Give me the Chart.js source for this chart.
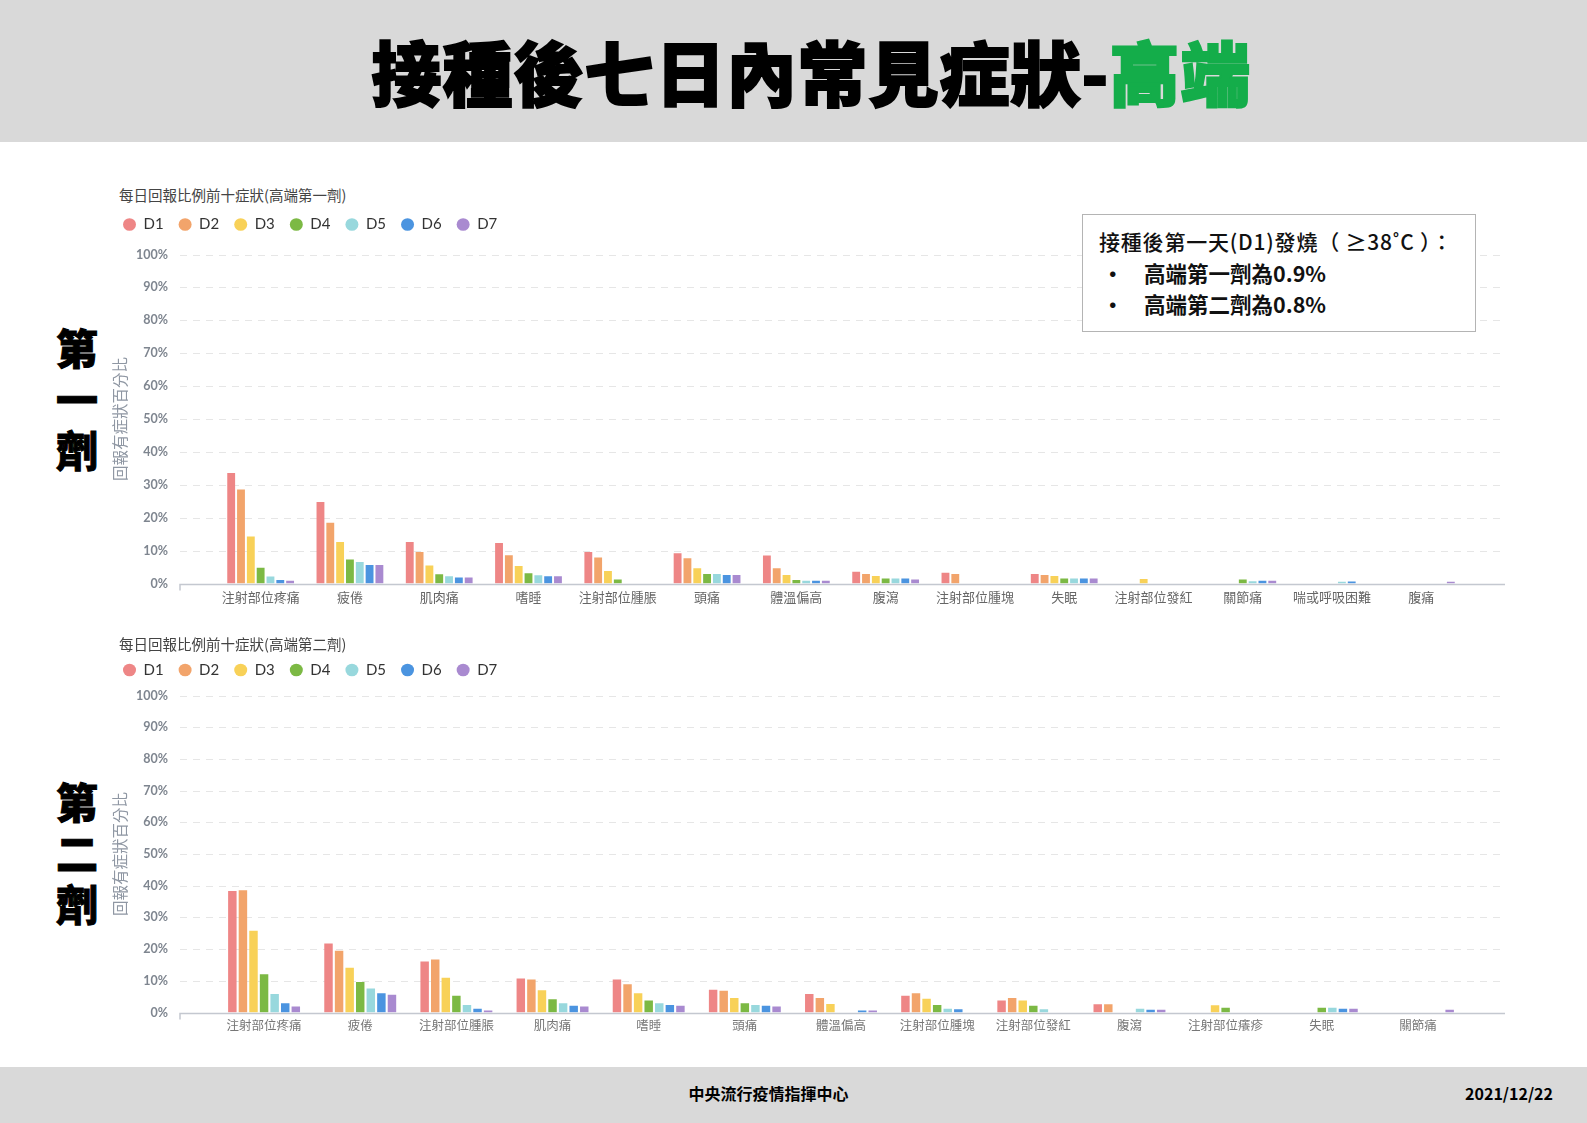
<!DOCTYPE html>
<html lang="zh-Hant">
<head>
<meta charset="utf-8">
<title>接種後七日內常見症狀-高端</title>
<script src="https://cdn.jsdelivr.net/npm/chart.js@4/dist/chart.umd.min.js"></script>
<style>
  html, body { margin: 0; padding: 0; background: #fff; }
  body { width: 1587px; height: 1123px; position: relative; overflow: hidden;
         font-family: "Noto Sans CJK TC", "Noto Sans", sans-serif; }
  .header { position: absolute; left: 0; top: 0; width: 1587px; height: 142px; background: #d9d9d9; }
  .header h1 { margin: 0; position: absolute; left: 18px; width: 1587px; top: 27px; text-align: center;
               font-size: 70px; line-height: 88px; font-weight: 900; color: #000;
               -webkit-text-stroke: 2px #000; letter-spacing: 1px; }
  .header h1 span { color: #14ad4a; -webkit-text-stroke: 2px #14ad4a; }
  .footer { position: absolute; left: 0; top: 1067px; width: 1587px; height: 56px; background: #d9d9d9; }
  .footer .org { position: absolute; left: 0; width: 1537px; top: 14px; text-align: center;
                 font-size: 16px; font-weight: 700; color: #000; }
  .footer .date { position: absolute; right: 34px; top: 14px; font-size: 16px; font-weight: 700; color: #000; }
  .dose { position: absolute; left: 52px; width: 50px; text-align: center; font-size: 42px;
          line-height: 51px; font-weight: 900; color: #000; -webkit-text-stroke: 1px #000; }
  .ctitle { position: absolute; left: 119px; font-size: 14.5px; color: #444; line-height: 20px; }
  .chartbox { position: absolute; }
  .note { position: absolute; left: 1082px; top: 214px; width: 394px; height: 118px;
          border: 1px solid #b4b4b4; background: #fff; z-index: 5; box-sizing: border-box; }
  .note p { margin: 0; position: absolute; left: 16px; font-size: 21px; line-height: 30px;
            color: #111; white-space: nowrap; font-weight: 500; letter-spacing: 0.8px; }
  .note .b { font-weight: 700; left: 19px; font-size: 21.5px; letter-spacing: 0; }
  .note .b i { font-style: normal; display: inline-block; width: 42px; }
</style>
</head>
<body>
<div class="header"><h1>接種後七日內常見症狀-<span>高端</span></h1></div>

<div class="dose" style="top:321px">第<br>一<br>劑</div>
<div class="dose" style="top:775px">第<br>二<br>劑</div>

<div class="ctitle" style="top:185px">每日回報比例前十症狀(高端第一劑)</div>
<div class="chartbox" style="left:108px;top:199px;width:1402px;height:440px"><canvas id="c1"></canvas></div>

<div class="ctitle" style="top:634px">每日回報比例前十症狀(高端第二劑)</div>
<div class="chartbox" style="left:108px;top:640px;width:1402px;height:428px"><canvas id="c2"></canvas></div>

<div class="note">
  <p style="top:11px">接種後第一天(D1)發燒（ ≥38˚C ）：</p>
  <p class="b" style="top:43px"><i>•</i>高端第一劑為0.9%</p>
  <p class="b" style="top:74px"><i>•</i>高端第二劑為0.8%</p>
</div>

<div class="footer">
  <div class="org">中央流行疫情指揮中心</div>
  <div class="date">2021/12/22</div>
</div>

<script>
// day labels and colours
const days = ['D1', 'D2', 'D3', 'D4', 'D5', 'D6', 'D7'];
const dayColors = ['#ee8686', '#f2a46b', '#f8d158', '#7cb944', '#98d8dd', '#4b94e0', '#a98ad0'];
const yTicks = [0, 10, 20, 30, 40, 50, 60, 70, 80, 90, 100];

// first dose (%)
const dose1Labels = ['注射部位疼痛', '疲倦', '肌肉痛', '嗜睡', '注射部位腫脹', '頭痛', '體溫偏高', '腹瀉', '注射部位腫塊', '失眠', '注射部位發紅', '關節痛', '喘或呼吸困難', '腹痛'];
const dose1D1 = [33.6, 24.8, 12.6, 12.3, 9.6, 9.2, 8.5, 3.6, 3.3, 2.9, 0, 0, 0, 0];
const dose1D2 = [28.6, 18.5, 9.6, 8.6, 7.9, 7.7, 4.6, 2.9, 2.9, 2.6, 0, 0, 0, 0];
const dose1D3 = [14.3, 12.6, 5.5, 5.3, 3.8, 4.6, 2.6, 2.3, 0, 2.3, 1.4, 0, 0, 0];
const dose1D4 = [4.8, 7.3, 2.8, 3.1, 1.2, 2.9, 1.1, 1.5, 0, 1.5, 0, 1.2, 0, 0];
const dose1D5 = [2.1, 6.5, 2.2, 2.5, 0, 2.9, 0.8, 1.5, 0, 1.5, 0, 0.7, 0.5, 0];
const dose1D6 = [1.1, 5.6, 1.8, 2.2, 0, 2.6, 0.8, 1.5, 0, 1.5, 0, 0.8, 0.6, 0];
const dose1D7 = [0.8, 5.6, 1.8, 2.2, 0, 2.6, 0.8, 1.2, 0, 1.5, 0, 0.8, 0, 0.5];

// second dose (%)
const dose2Labels = ['注射部位疼痛', '疲倦', '注射部位腫脹', '肌肉痛', '嗜睡', '頭痛', '體溫偏高', '注射部位腫塊', '注射部位發紅', '腹瀉', '注射部位癢疹', '失眠', '關節痛'];
const dose2D1 = [38.3, 21.8, 16.1, 10.7, 10.4, 7.2, 5.8, 5.3, 3.8, 2.6, 0, 0, 0];
const dose2D2 = [38.6, 19.5, 16.7, 10.4, 8.9, 6.9, 4.6, 6.1, 4.6, 2.6, 0, 0, 0];
const dose2D3 = [25.8, 14.1, 11.0, 7.0, 6.1, 4.6, 2.7, 4.3, 3.8, 0, 2.3, 0, 0];
const dose2D4 = [12.1, 9.6, 5.3, 4.2, 3.8, 2.9, 0, 2.4, 2.1, 0, 1.5, 1.5, 0];
const dose2D5 = [5.8, 7.6, 2.4, 2.9, 2.9, 2.4, 0, 1.2, 1.0, 1.2, 0, 1.5, 0];
const dose2D6 = [2.9, 6.1, 1.2, 2.1, 2.4, 2.1, 0.6, 1.0, 0, 0.9, 0, 1.2, 0];
const dose2D7 = [1.9, 5.6, 0.6, 1.9, 2.1, 1.9, 0.6, 0, 0, 0.9, 0, 1.2, 0.9];

Chart.defaults.font.family = 'Lato, "Noto Sans CJK TC", sans-serif';
Chart.defaults.animation = false;

// dashed grid + axis line, running a bit past the plot on both sides
const extGrid = {
  id: 'extGrid',
  beforeDatasetsDraw(chart) {
    const { ctx, chartArea, scales: { y } } = chart;
    const x0 = chartArea.left - 36, x1 = chartArea.right + 39;
    ctx.save();
    ctx.strokeStyle = '#e6e6e6';
    ctx.lineWidth = 1;
    ctx.setLineDash([7, 6]);
    y.ticks.forEach(t => {
      if (t.value === 0) return;
      const py = Math.round(y.getPixelForValue(t.value)) + 0.5;
      ctx.beginPath(); ctx.moveTo(x0, py); ctx.lineTo(x1, py); ctx.stroke();
    });
    ctx.restore();
  },
  afterDatasetsDraw(chart) {
    const { ctx, chartArea, scales: { y } } = chart;
    const x0 = chartArea.left - 36, x1 = chartArea.right + 39;
    const py = Math.round(y.getPixelForValue(0)) + 0.5;
    ctx.save();
    ctx.strokeStyle = '#c4c8d0';
    ctx.lineWidth = 1.5;
    ctx.beginPath(); ctx.moveTo(x0, py + 6); ctx.lineTo(x0, py); ctx.lineTo(x1, py); ctx.stroke();
    ctx.restore();
  }
};

function makeChart(id, labels, series, opts) {
  new Chart(document.getElementById(id), {
    type: 'bar',
    data: {
      labels: labels,
      datasets: series.map((d, i) => ({
        label: days[i],
        data: d,
        backgroundColor: dayColors[i],
        borderWidth: 0,
        categoryPercentage: 0.77,
        barPercentage: 0.8
      }))
    },
    options: {
      responsive: true,
      maintainAspectRatio: false,
      layout: { padding: { left: 0, right: 44, top: 0, bottom: 0 } },
      plugins: {
        tooltip: { enabled: false },
        legend: {
          position: 'top',
          align: 'start',
          labels: {
            usePointStyle: true,
            pointStyle: 'circle',
            pointStyleWidth: 13,
            boxHeight: 9,
            padding: 15,
            color: '#333',
            font: { size: 15 }
          }
        },
        subtitle: {
          display: true,
          text: '',
          weight: 500,
          font: { size: 1, lineHeight: 1 },
          padding: { top: opts.gap, bottom: 0 }
        }
      },
      scales: {
        x: {
          grid: { display: false, drawTicks: false },
          border: { display: false },
          ticks: {
            color: opts.xColor,
            font: { size: opts.xSize },
            padding: opts.xPad,
            maxRotation: 0,
            autoSkip: false
          }
        },
        y: {
          min: 0,
          max: 100,
          afterBuildTicks: s => { s.ticks = yTicks.map(v => ({ value: v })); },
          afterFit: s => { s.width = 108; },
          grid: { display: false, drawTicks: false },
          border: { display: false },
          ticks: {
            color: '#7e858f',
            font: { size: 12.5, weight: 'bold' },
            padding: 48,
            callback: v => v + '%'
          },
          title: {
            display: true,
            text: '回報有症狀百分比',
            color: '#8f97a3',
            font: { size: 15.5 },
            padding: { top: 4, bottom: 0 }
          }
        }
      }
    },
    plugins: [extGrid]
  });
}

makeChart('c1', dose1Labels, [dose1D1, dose1D2, dose1D3, dose1D4, dose1D5, dose1D6, dose1D7],
  { gap: 11.5, xColor: '#666', xSize: 13, xPad: 7 });
makeChart('c2', dose2Labels, [dose2D1, dose2D2, dose2D3, dose2D4, dose2D5, dose2D6, dose2D7],
  { gap: 7, xColor: '#777', xSize: 12.5, xPad: 6 });
</script>
</body>
</html>
